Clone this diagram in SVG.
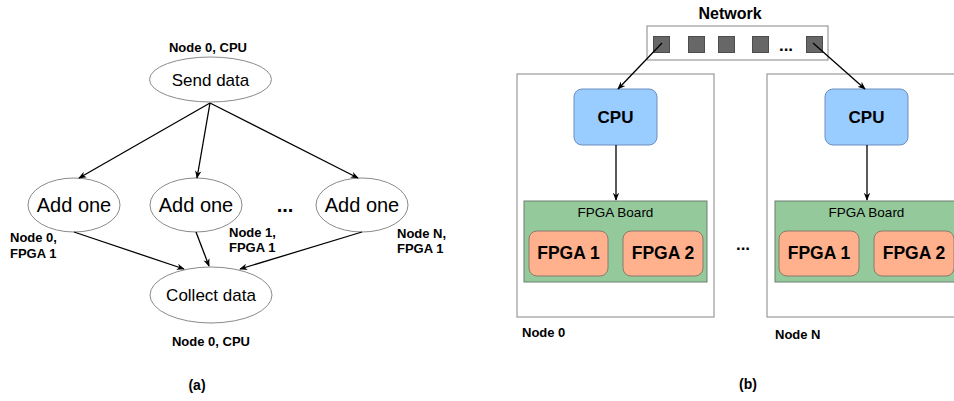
<svg xmlns="http://www.w3.org/2000/svg" width="954" height="401" viewBox="0 0 954 401">
<style>
text{font-family:"Liberation Sans",Arial,sans-serif;fill:#000}
.b{font-weight:bold}
.ell{fill:#fff;stroke:#8a8a8a;stroke-width:1}
.edge{stroke:#000;stroke-width:1.3;fill:none;marker-end:url(#ah)}
.box{fill:#fff;stroke:#999;stroke-width:1.2}
.cpu{fill:#99ccff;stroke:#6c8ebf;stroke-width:1}
.board{fill:#93c99b;stroke:#6d7f6f;stroke-width:1}
.fpga{fill:#ffb08c;stroke:#8c7a6a;stroke-width:1}
.sq{fill:#676767;stroke:#4d4d4d;stroke-width:1}
</style>
<defs>
<marker id="ah" viewBox="0 0 10 10" refX="9" refY="5" markerWidth="8" markerHeight="8" orient="auto" markerUnits="userSpaceOnUse">
<path d="M0,1 L10,5 L0,9 L3,5 z" fill="#000"/>
</marker>
</defs>
<rect width="954" height="401" fill="#fff"/>

<!-- (a) -->
<g id="send">
<text class="b" x="208" y="52" font-size="13" text-anchor="middle">Node 0, CPU</text>
<ellipse class="ell" cx="210.5" cy="79.5" rx="61" ry="22.5"/>
<text x="210.5" y="85.5" font-size="17" text-anchor="middle">Send data</text>
</g>
<g id="add0">
<ellipse class="ell" cx="74" cy="205" rx="46" ry="27"/>
<text x="74" y="212" font-size="20" text-anchor="middle">Add one</text>
<text class="b" x="10" y="242" font-size="13">Node 0,</text>
<text class="b" x="10" y="258" font-size="13">FPGA 1</text>
</g>
<g id="add1">
<ellipse class="ell" cx="196" cy="205" rx="46" ry="27"/>
<text x="196" y="212" font-size="20" text-anchor="middle">Add one</text>
<text class="b" x="229" y="237" font-size="13">Node 1,</text>
<text class="b" x="229" y="252" font-size="13">FPGA 1</text>
</g>
<text class="b" x="285" y="212" font-size="20" text-anchor="middle">...</text>
<g id="addN">
<ellipse class="ell" cx="362" cy="205" rx="46" ry="27"/>
<text x="362" y="212" font-size="20" text-anchor="middle">Add one</text>
<text class="b" x="397" y="238" font-size="13">Node N,</text>
<text class="b" x="397" y="253" font-size="13">FPGA 1</text>
</g>
<g id="collect">
<ellipse class="ell" cx="211" cy="295" rx="61" ry="28"/>
<text x="211" y="301" font-size="17" text-anchor="middle">Collect data</text>
<text class="b" x="211" y="346" font-size="13" text-anchor="middle">Node 0, CPU</text>
</g>
<text class="b" x="197" y="390" font-size="14" text-anchor="middle">(a)</text>

<g id="edges-a">
<line class="edge" x1="210" y1="103" x2="79" y2="178"/>
<line class="edge" x1="210" y1="103" x2="197" y2="178"/>
<line class="edge" x1="210" y1="103" x2="358" y2="178"/>
<line class="edge" x1="74" y1="232" x2="184" y2="269"/>
<line class="edge" x1="196" y1="232" x2="209" y2="266"/>
<line class="edge" x1="362" y1="232" x2="240" y2="269"/>
</g>

<!-- (b) -->
<g id="network">
<text class="b" x="730" y="19" font-size="16" text-anchor="middle">Network</text>
<rect class="box" x="647" y="26" width="181" height="34"/>
<rect class="sq" x="653.5" y="36.5" width="16" height="16"/>
<rect class="sq" x="688.5" y="36.5" width="16" height="16"/>
<rect class="sq" x="718.5" y="36.5" width="16" height="16"/>
<rect class="sq" x="752.5" y="36.5" width="16" height="16"/>
<text class="b" x="786" y="51" font-size="17" text-anchor="middle">...</text>
<rect class="sq" x="806.5" y="36.5" width="16" height="16"/>
</g>
<g id="node0">
<rect class="box" x="517" y="74" width="197" height="243"/>
<rect class="cpu" x="574" y="89" width="83" height="56" rx="8"/>
<text class="b" x="615.5" y="123" font-size="17" text-anchor="middle">CPU</text>
<rect class="board" x="524" y="201" width="183" height="81"/>
<text x="615.5" y="217" font-size="13.5" text-anchor="middle">FPGA Board</text>
<rect class="fpga" x="529" y="231" width="79" height="45" rx="8"/>
<text class="b" x="568.5" y="259" font-size="17.5" text-anchor="middle">FPGA 1</text>
<rect class="fpga" x="623" y="231" width="80" height="45" rx="8"/>
<text class="b" x="663" y="259" font-size="17.5" text-anchor="middle">FPGA 2</text>
<text class="b" x="522" y="337" font-size="13">Node 0</text>
</g>
<text class="b" x="743" y="250" font-size="17" text-anchor="middle">...</text>
<g id="nodeN">
<rect class="box" x="767" y="74" width="197" height="243"/>
<rect class="cpu" x="825" y="89" width="83" height="56" rx="8"/>
<text class="b" x="866.5" y="123" font-size="17" text-anchor="middle">CPU</text>
<rect class="board" x="775" y="201" width="183" height="81"/>
<text x="866.5" y="217" font-size="13.5" text-anchor="middle">FPGA Board</text>
<rect class="fpga" x="779" y="231" width="80" height="45" rx="8"/>
<text class="b" x="819" y="259" font-size="17.5" text-anchor="middle">FPGA 1</text>
<rect class="fpga" x="874" y="231" width="80" height="45" rx="8"/>
<text class="b" x="914" y="259" font-size="17.5" text-anchor="middle">FPGA 2</text>
<text class="b" x="775" y="339" font-size="13">Node N</text>
</g>
<text class="b" x="748" y="389" font-size="14" text-anchor="middle">(b)</text>

<g id="edges-b">
<line class="edge" x1="662" y1="43" x2="618" y2="89"/>
<line class="edge" x1="813" y1="43" x2="865" y2="89"/>
<line class="edge" x1="616" y1="145" x2="616" y2="200"/>
<line class="edge" x1="867" y1="145" x2="867" y2="200"/>
</g>
</svg>
